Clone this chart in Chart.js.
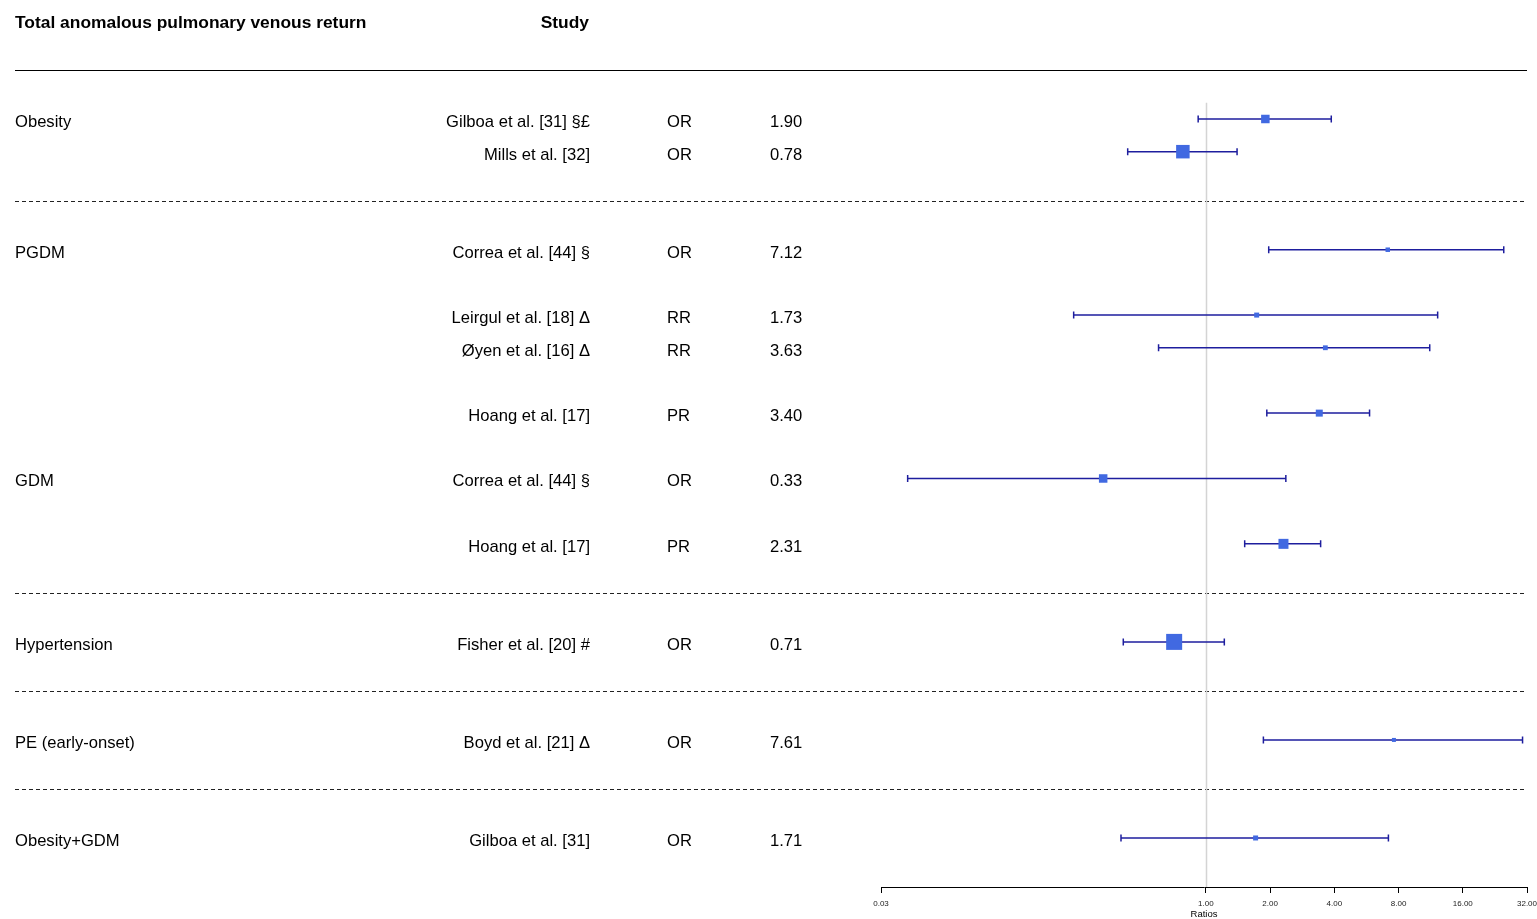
<!DOCTYPE html>
<html>
<head>
<meta charset="utf-8">
<script src="https://cdn.jsdelivr.net/npm/chart.js@4"></script>
<style>
  html, body { margin: 0; padding: 0; background: #fff; overflow: hidden; }
  #wrap { position: relative; width: 1537px; height: 919px; }
  #wrap canvas { position: absolute; left: 0; top: 0; }
  .lbl { position: absolute; font-family: "Liberation Sans", Arial, sans-serif; font-size: 16.6px; color: #000; white-space: nowrap; line-height: 18px; transform: translateY(-50%); }
  .bold { font-weight: bold; font-size: 17.4px; }
</style>
</head>
<body>
<div id="wrap"><canvas id="c"></canvas><div id="labels"></div></div>
<script>
// ---- data ----
const title = 'Total anomalous pulmonary venous return';
const studyHeader = 'Study';
const groups   = ['Obesity', '', 'PGDM', '', '', '', 'GDM', '', 'Hypertension', 'PE (early-onset)', 'Obesity+GDM'];
const studies  = ['Gilboa et al. [31] §£', 'Mills et al. [32]', 'Correa et al. [44] §', 'Leirgul et al. [18] Δ', 'Øyen et al. [16] Δ', 'Hoang et al. [17]', 'Correa et al. [44] §', 'Hoang et al. [17]', 'Fisher et al. [20] #', 'Boyd et al. [21] Δ', 'Gilboa et al. [31]'];
const measures = ['OR', 'OR', 'OR', 'RR', 'RR', 'PR', 'OR', 'PR', 'OR', 'OR', 'OR'];
const estimates = [1.90, 0.78, 7.12, 1.73, 3.63, 3.40, 0.33, 2.31, 0.71, 7.61, 1.71];
const lower     = [0.92, 0.43, 1.97, 0.24, 0.60, 1.93, 0.04, 1.52, 0.41, 1.86, 0.40];
const upper     = [3.87, 1.40, 24.9, 12.2, 11.2, 5.85, 2.37, 3.45, 1.22, 30.5, 7.17];
const weights   = [8.5, 13.5, 4.5, 5, 4.8, 7, 8.5, 10, 16, 4, 5];
const tableRow  = [0, 1, 4, 6, 7, 9, 11, 13, 16, 19, 22];
const separatorRows = [2.5, 14.5, 17.5, 20.5];
const headerRow = -3, headerRuleRow = -1.5, refLineTopRow = -0.5, axisRow = 23.5;
const xTicks = [0.03, 1, 2, 4, 8, 16, 32];
const xTitle = 'Ratios';

const FONT = '"Liberation Sans", Arial, sans-serif';

const decor = {
  id: 'forestDecor',
  beforeDatasetsDraw(chart) {
    const { ctx, scales: { x, y }, chartArea } = chart;
    ctx.save();
    // header rule
    ctx.strokeStyle = '#000';
    ctx.lineWidth = 1.2;
    ctx.setLineDash([]);
    ctx.beginPath();
    const hy = Math.round(y.getPixelForValue(headerRuleRow)) + 0.5;
    ctx.moveTo(15, hy); ctx.lineTo(chartArea.right, hy); ctx.stroke();
    // separators
    ctx.strokeStyle = '#222';
    ctx.lineWidth = 1.2;
    ctx.setLineDash([4, 3]);
    separatorRows.forEach(r => {
      const py = Math.round(y.getPixelForValue(r)) + 0.5;
      ctx.beginPath(); ctx.moveTo(15, py); ctx.lineTo(chartArea.right, py); ctx.stroke();
    });
    ctx.setLineDash([]);
    // reference line at 1
    const rx = Math.round(x.getPixelForValue(1)) + 0.5;
    ctx.strokeStyle = '#d4d4d4';
    ctx.lineWidth = 1.5;
    ctx.beginPath();
    ctx.moveTo(rx, y.getPixelForValue(refLineTopRow));
    ctx.lineTo(rx, y.getPixelForValue(axisRow));
    ctx.stroke();
    // confidence intervals
    ctx.strokeStyle = '#1e1e9e';
    ctx.lineWidth = 1.5;
    estimates.forEach((e, i) => {
      const py = y.getPixelForValue(tableRow[i]);
      const x0 = x.getPixelForValue(lower[i]);
      const x1 = x.getPixelForValue(upper[i]);
      ctx.beginPath();
      ctx.moveTo(x0, py); ctx.lineTo(x1, py);
      ctx.moveTo(x0, py - 3.5); ctx.lineTo(x0, py + 3.5);
      ctx.moveTo(x1, py - 3.5); ctx.lineTo(x1, py + 3.5);
      ctx.stroke();
    });
    ctx.restore();
  },
  afterDraw(chart) {
    const { scales: { y } } = chart;
    const host = document.getElementById('labels');
    host.innerHTML = '';
    const add = (text, row, opts) => {
      const d = document.createElement('div');
      d.className = 'lbl' + (opts.bold ? ' bold' : '');
      d.textContent = text;
      d.style.top = (y.getPixelForValue(row) + (opts.bold ? 1.5 : 3)) + 'px';
      if (opts.right !== undefined) {
        d.style.right = (1537 - opts.right) + 'px';
        d.style.textAlign = 'right';
      } else {
        d.style.left = opts.left + 'px';
      }
      host.appendChild(d);
    };
    add(title, headerRow, { left: 15, bold: true });
    add(studyHeader, headerRow, { right: 589, bold: true });
    studies.forEach((s, i) => {
      const r = tableRow[i];
      if (groups[i]) add(groups[i], r, { left: 15 });
      add(s, r, { right: 590 });
      add(measures[i], r, { left: 667 });
      add(estimates[i].toFixed(2), r, { left: 770 });
    });
  }
};

new Chart(document.getElementById('c'), {
  type: 'scatter',
  data: {
    datasets: [{
      data: estimates.map((e, i) => ({ x: e, y: tableRow[i] })),
      pointStyle: 'rect',
      pointRadius: weights.map(w => w / Math.SQRT2),
      pointHoverRadius: weights.map(w => w / Math.SQRT2),
      backgroundColor: '#4169e1',
      borderWidth: 0
    }]
  },
  options: {
    responsive: true,
    maintainAspectRatio: false,
    animation: false,
    events: [],
    layout: { autoPadding: false, padding: { left: 881, right: 10, top: 0, bottom: 0 } },
    plugins: { legend: { display: false }, tooltip: { enabled: false } },
    scales: {
      x: {
        type: 'logarithmic',
        position: 'bottom',
        min: 0.03,
        max: 32,
        afterBuildTicks: s => { s.ticks = xTicks.map(v => ({ value: v })); },
        afterFit: s => { s.height = 32; s.paddingLeft = 0; s.paddingRight = 0; },
        ticks: {
          autoSkip: false,
          maxRotation: 0,
          padding: 6,
          color: '#222',
          font: { family: FONT, size: 8 },
          callback: v => Number(v).toFixed(2)
        },
        grid: { drawOnChartArea: false, drawTicks: true, tickLength: 6, color: '#000', lineWidth: 1 },
        border: { display: true, color: '#000', width: 1 },
        title: { display: true, text: xTitle, color: '#000', font: { family: FONT, size: 9.5, lineHeight: 1 }, padding: { top: 0, bottom: 0 } }
      },
      y: {
        type: 'linear',
        display: false,
        reverse: true,
        min: -3.641,
        max: axisRow
      }
    }
  },
  plugins: [decor]
});
</script>
</body>
</html>
